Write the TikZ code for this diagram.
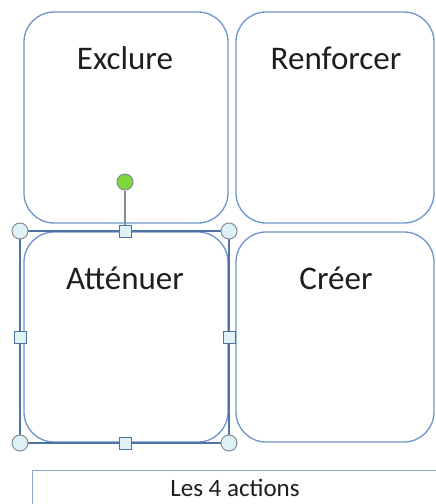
\documentclass[tikz,border=0pt]{standalone}
\usepackage{fontspec}
\setmainfont{Carlito}
\definecolor{boxblue}{RGB}{110,148,205}
\definecolor{selblue}{RGB}{80,115,165}
\definecolor{handlefill}{RGB}{222,242,246}
\definecolor{handledraw}{RGB}{130,140,150}
\definecolor{greenh}{RGB}{125,215,60}
\definecolor{textc}{RGB}{30,30,30}
\begin{document}
\begin{tikzpicture}[x=1pt,y=-1pt,
  card/.style={draw=boxblue,line width=1.3pt,rounded corners=30pt,fill=white},
  lbl/.style={font=\fontsize{33}{33}\selectfont,text=textc,inner sep=0pt,anchor=base},
  circh/.style={circle,draw=handledraw,fill=handlefill,line width=1pt,minimum size=16pt,inner sep=0pt},
  sqh/.style={rectangle,draw=selblue,fill=handlefill,line width=1pt,minimum size=12pt,inner sep=0pt},
  greenhandle/.style={circle,draw=handledraw,fill=greenh,line width=1pt,minimum size=16pt,inner sep=0pt}]
\useasboundingbox (0,0) rectangle (436,504);
% cards
\draw[card] (24,12) rectangle (228,223);
\draw[card] (236,12) rectangle (434,223);
\draw[card] (24,232) rectangle (228,442);
\draw[card] (236,232) rectangle (434,442);
\node[lbl] (exclure) at (125,69) {Exclure};
\node[lbl] (renforcer) at (336,69) {Renforcer};
\node[lbl] (attenuer) at (125,289) {Atténuer};
\node[lbl] (creer) at (336,289) {Créer};
% selection frame
\coordinate (tl) at (20,231);
\coordinate (tr) at (229,231);
\coordinate (bl) at (20,443);
\coordinate (br) at (229,443);
\draw[selblue,line width=1.6pt] (tl) -- (tr) -- (br) -- (bl) -- cycle;
\node[greenhandle] (rot) at (125,182) {};
\node[sqh] (mt) at (125,231) {};
\draw[handledraw,line width=2pt] (rot) -- (mt);
\node[sqh] (mt2) at (125,231) {};
\node[sqh] (mb) at (125,443) {};
\node[sqh] (ml) at (20,337) {};
\node[sqh] (mr) at (229,337) {};
\node[circh] (ctl) at (tl) {};
\node[circh] (ctr) at (tr) {};
\node[circh] (cbl) at (bl) {};
\node[circh] (cbr) at (br) {};
% caption box
\draw[draw=boxblue!80,line width=1pt,fill=white] (32,470) rectangle (445,515);
\node[font=\fontsize{25}{25}\selectfont,text=textc,inner sep=0pt,anchor=base] (caption) at (235,496) {Les 4 actions};
\end{tikzpicture}
\end{document}
